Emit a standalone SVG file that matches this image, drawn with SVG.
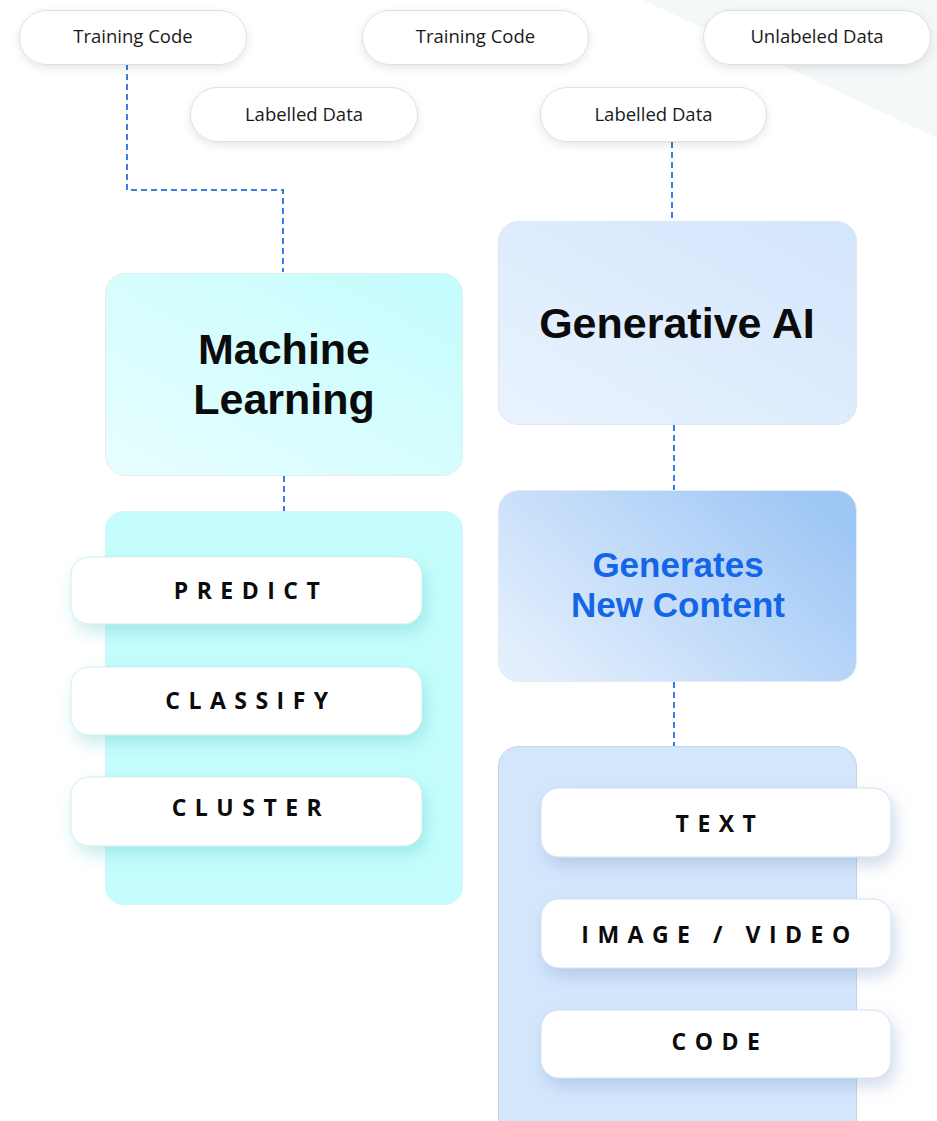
<svg xmlns="http://www.w3.org/2000/svg" width="937" height="1121" viewBox="0 0 937 1121">
  <style>
    .pill { fill: #ffffff; stroke: #dcdfe3; stroke-width: 1; }
    .pilltxt { font-family: "Open Sans", "Liberation Sans", sans-serif; font-size: 18.5px; fill: #1a1a1a; text-anchor: middle; }
    .title { font-family: "Liberation Sans", Arial, sans-serif; font-weight: 700; font-size: 43px; fill: #0b0b0b; text-anchor: middle; }
    .gen { font-family: "Liberation Sans", Arial, sans-serif; font-weight: 700; font-size: 35px; fill: #1466e6; text-anchor: middle; }
    .item { fill: #ffffff; }
    .itemtxt { font-family: "Open Sans", "Liberation Sans", sans-serif; font-weight: 700; font-size: 23px; letter-spacing: 8.5px; fill: #0b0b0b; text-anchor: middle; }
    .conn { fill: none; stroke: #3a7be6; stroke-width: 2; stroke-dasharray: 6 4; }
  </style>
  <defs>
    <linearGradient id="mlGrad" x1="0" y1="1" x2="1" y2="0">
      <stop offset="0" stop-color="#e8feff"/>
      <stop offset="1" stop-color="#c4fcfc"/>
    </linearGradient>
    <linearGradient id="gaiGrad" x1="0" y1="1" x2="1" y2="0">
      <stop offset="0" stop-color="#e9f3fe"/>
      <stop offset="1" stop-color="#d3e5fc"/>
    </linearGradient>
    <linearGradient id="genGrad" x1="0" y1="0.8" x2="1" y2="0.2">
      <stop offset="0" stop-color="#e4effd"/>
      <stop offset="1" stop-color="#9dc6f5"/>
    </linearGradient>
    <filter id="pillShadow" x="-20%" y="-40%" width="140%" height="190%">
      <feDropShadow dx="0" dy="3" stdDeviation="4" flood-color="#000000" flood-opacity="0.10"/>
    </filter>
    <filter id="cyanShadow" x="-20%" y="-40%" width="150%" height="200%">
      <feDropShadow dx="4" dy="8" stdDeviation="8" flood-color="#5fc9c9" flood-opacity="0.35"/>
    </filter>
    <filter id="blueShadow" x="-20%" y="-40%" width="150%" height="200%">
      <feDropShadow dx="4" dy="8" stdDeviation="8" flood-color="#6b8fc0" flood-opacity="0.30"/>
    </filter>
  </defs>

  <rect width="937" height="1121" fill="#ffffff"/>
  <polygon points="643,0 937,0 937,138" fill="#f4f8f9"/>

  <g id="connectors">
    <path class="conn" d="M127,64 V190 H283 V272"/>
    <path class="conn" d="M672,142 V220"/>
    <path class="conn" d="M284,476 V511"/>
    <path class="conn" d="M674,425 V490"/>
    <path class="conn" d="M674,682 V746"/>
  </g>

  <g id="training-code-1">
    <rect class="pill" x="19.5" y="10.5" width="227" height="54" rx="27" filter="url(#pillShadow)"/>
    <text class="pilltxt" x="133" y="43">Training Code</text>
  </g>
  <g id="training-code-2">
    <rect class="pill" x="362.5" y="10.5" width="226" height="54" rx="27" filter="url(#pillShadow)"/>
    <text class="pilltxt" x="475.5" y="43">Training Code</text>
  </g>
  <g id="unlabeled-data">
    <rect class="pill" x="703.5" y="10.5" width="227" height="54" rx="27" filter="url(#pillShadow)"/>
    <text class="pilltxt" x="817" y="43">Unlabeled Data</text>
  </g>
  <g id="labelled-data-1">
    <rect class="pill" x="190.5" y="87.5" width="227" height="54" rx="27" filter="url(#pillShadow)"/>
    <text class="pilltxt" x="304" y="121">Labelled Data</text>
  </g>
  <g id="labelled-data-2">
    <rect class="pill" x="540.5" y="87.5" width="226" height="54" rx="27" filter="url(#pillShadow)"/>
    <text class="pilltxt" x="653.5" y="121">Labelled Data</text>
  </g>

  <g id="machine-learning">
    <rect x="105.5" y="273.5" width="357" height="202" rx="20" fill="url(#mlGrad)" stroke="#e2eeee" stroke-width="1"/>
    <text class="title"><tspan x="284" y="364">Machine</tspan><tspan x="284" y="414">Learning</tspan></text>
  </g>

  <g id="ml-outputs">
    <rect x="105.5" y="511.5" width="357" height="393" rx="18" fill="#c4fdfc" stroke="#d8f4f4" stroke-width="1"/>
  </g>
  <g id="predict">
    <rect class="item" x="71" y="557" width="351" height="67" rx="18" stroke="#cfeeee" stroke-width="1" filter="url(#cyanShadow)"/>
    <text class="itemtxt" x="251" y="599">PREDICT</text>
  </g>
  <g id="classify">
    <rect class="item" x="71" y="667" width="351" height="68" rx="18" stroke="#cfeeee" stroke-width="1" filter="url(#cyanShadow)"/>
    <text class="itemtxt" x="251" y="709">CLASSIFY</text>
  </g>
  <g id="cluster">
    <rect class="item" x="71" y="777" width="351" height="69" rx="18" stroke="#cfeeee" stroke-width="1" filter="url(#cyanShadow)"/>
    <text class="itemtxt" x="251" y="816">CLUSTER</text>
  </g>

  <g id="generative-ai">
    <rect x="498.5" y="221.5" width="358" height="203" rx="20" fill="url(#gaiGrad)" stroke="#dfe6f0" stroke-width="1"/>
    <text class="title" x="677" y="338" font-size="44">Generative AI</text>
  </g>

  <g id="generates-new-content">
    <rect x="498.5" y="490.5" width="358" height="191" rx="20" fill="url(#genGrad)" stroke="#e3ebf5" stroke-width="1"/>
    <text class="gen"><tspan x="678" y="577">Generates</tspan><tspan x="678" y="617">New Content</tspan></text>
  </g>

  <g id="gen-outputs">
    <rect x="498.5" y="746.5" width="358" height="400" rx="20" fill="#d3e6fc" stroke="#c5d3e6" stroke-width="1"/>
  </g>
  <g id="text">
    <rect class="item" x="541" y="788" width="350" height="69" rx="18" stroke="#d5e0ee" stroke-width="1" filter="url(#blueShadow)"/>
    <text class="itemtxt" x="720" y="832">TEXT</text>
  </g>
  <g id="image-video">
    <rect class="item" x="541" y="899" width="350" height="69" rx="18" stroke="#d5e0ee" stroke-width="1" filter="url(#blueShadow)"/>
    <text class="itemtxt" x="720" y="943">IMAGE / VIDEO</text>
  </g>
  <g id="code">
    <rect class="item" x="541" y="1010" width="350" height="68" rx="18" stroke="#d5e0ee" stroke-width="1" filter="url(#blueShadow)"/>
    <text class="itemtxt" x="720" y="1050">CODE</text>
  </g>
</svg>
